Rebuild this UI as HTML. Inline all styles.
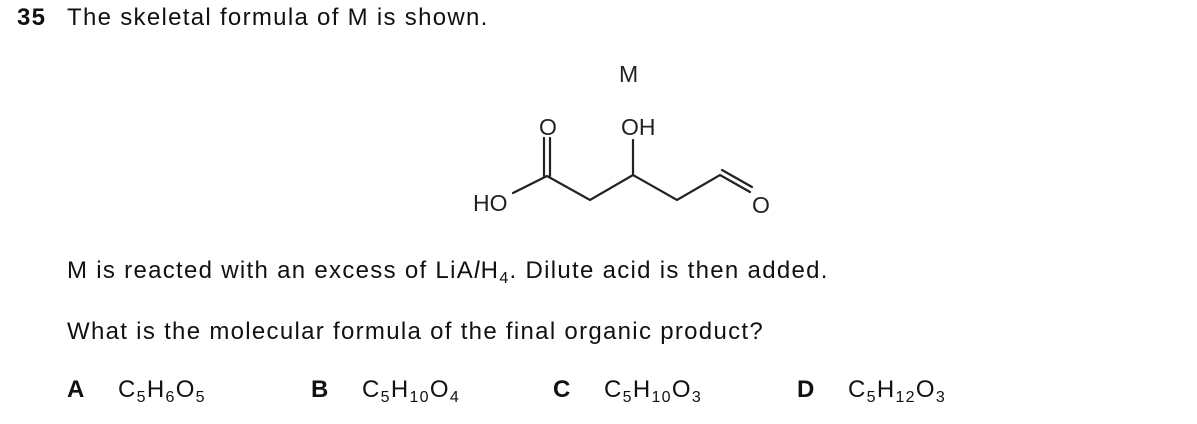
<html><head><style>
body{margin:0;width:1197px;height:424px;background:#fff;position:relative;font-family:"Liberation Sans",Arial,sans-serif;color:#111;overflow:hidden}
.t{position:absolute;font-size:24px;letter-spacing:1.3px;white-space:nowrap;line-height:1}
b{font-weight:bold}
sub{font-size:16px;vertical-align:-5px;line-height:0}
</style></head><body>
<div class="t" style="left:17px;top:6px"><b>35</b></div>
<div class="t" style="left:67px;top:6px">The skeletal formula of M is shown.</div>
<svg style="position:absolute;left:0;top:0" width="1197" height="424">
<g stroke="#222" stroke-width="2.2" fill="none" stroke-linecap="round">
<polyline points="513,193 547,176 590,200 633,175 677,200 720,175 750,192"/>
<line x1="633" y1="175" x2="633" y2="140"/>
<line x1="544" y1="176" x2="544" y2="138"/>
<line x1="550" y1="176" x2="550" y2="138"/>
<line x1="722" y1="170" x2="752" y2="187"/>
</g>
<g font-family="Liberation Sans, Arial, sans-serif" font-size="23" fill="#222">
<text x="619" y="82">M</text>
<text x="539" y="135">O</text>
<text x="621" y="135">OH</text>
<text x="473" y="211">HO</text>
<text x="752" y="213">O</text>
</g>
</svg>
<div class="t" style="left:67px;top:259px">M is reacted with an excess of LiA<i>l</i>H<sub>4</sub>. Dilute acid is then added.</div>
<div class="t" style="left:67px;top:320px">What is the molecular formula of the final organic product?</div>
<div class="t" style="left:67px;top:378px"><b>A</b></div>
<div class="t" style="left:118px;top:378px">C<sub>5</sub>H<sub>6</sub>O<sub>5</sub></div>
<div class="t" style="left:311px;top:378px"><b>B</b></div>
<div class="t" style="left:362px;top:378px">C<sub>5</sub>H<sub>10</sub>O<sub>4</sub></div>
<div class="t" style="left:553px;top:378px"><b>C</b></div>
<div class="t" style="left:604px;top:378px">C<sub>5</sub>H<sub>10</sub>O<sub>3</sub></div>
<div class="t" style="left:797px;top:378px"><b>D</b></div>
<div class="t" style="left:848px;top:378px">C<sub>5</sub>H<sub>12</sub>O<sub>3</sub></div>
</body></html>
